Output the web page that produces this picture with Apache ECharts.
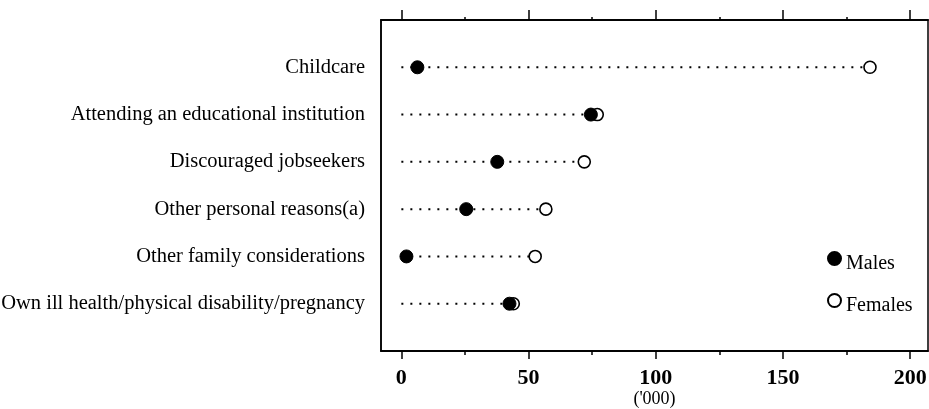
<!DOCTYPE html>
<html>
<head>
<meta charset="utf-8">
<script src="https://cdn.jsdelivr.net/npm/echarts@6/dist/echarts.min.js"></script>
<style>
  html, body { margin: 0; padding: 0; background: #fff; }
  #chart { width: 929px; height: 409px; }
</style>
</head>
<body>
<div id="chart"></div>
<script>
// categories listed top to bottom
var categories = [
	"Childcare",
	"Attending an educational institution",
	"Discouraged jobseekers",
	"Other personal reasons(a)",
	"Other family considerations",
	"Own ill health/physical disability/pregnancy"
];
var males = [6.3, 74.5, 37.7, 25.5, 2, 42.5];
var females = [184.2, 77, 71.9, 56.8, 52.6, 44];
var xTicks = [0, 50, 100, 150, 200];
var xMinorTicks = [25, 75, 125, 175];

var font = "'Liberation Serif', 'Times New Roman', serif";
var rows = categories.length;

// row i sits at y = rows - i (top row highest)
function rowY(i) { return rows - i; }

var maleData = males.map(function (v, i) { return [v, rowY(i)]; });
var femaleData = females.map(function (v, i) { return [v, rowY(i)]; });
var guideData = categories.map(function (c, i) {
	return [0, Math.max(males[i], females[i]), rowY(i)];
});

function xAxisDef(pos, ticks, len, showLabel) {
	return {
		type: "value",
		position: pos,
		min: -8,
		max: 207,
		axisLine: { show: true, onZero: false, lineStyle: { color: "#000", width: 1.5 } },
		splitLine: { show: false },
		axisTick: {
			show: true,
			inside: false,
			length: len,
			customValues: ticks,
			lineStyle: { color: "#000", width: 1.5 }
		},
		axisLabel: {
			show: showLabel,
			customValues: ticks,
			margin: 16,
			color: "#000",
			fontFamily: font,
			fontSize: 22,
			fontWeight: "bold"
		}
	};
}

var bottomAxis = xAxisDef("bottom", xTicks, 8, true);
bottomAxis.name = "('000)";
bottomAxis.nameLocation = "middle";
bottomAxis.nameGap = 39;
bottomAxis.nameMoveOverlap = false;
bottomAxis.nameTextStyle = { color: "#000", fontFamily: font, fontSize: 18 };

var option = {
	backgroundColor: "#fff",
	animation: false,
	grid: {
		left: 381,
		right: 1,
		top: 20,
		bottom: 58,
		outerBoundsMode: "none",
		containLabel: false,
		show: true,
		borderColor: "#000",
		borderWidth: 1.5
	},
	legend: {
		orient: "vertical",
		left: 822,
		top: 246,
		itemWidth: 13,
		itemHeight: 13,
		itemGap: 19,
		icon: "circle",
		data: ["Males", "Females"],
		formatter: "{t|{name}}",
		textStyle: {
			color: "#000",
			fontFamily: font,
			fontSize: 20,
			rich: {
				t: {
					fontFamily: font,
					fontSize: 20,
					color: "#000",
					padding: [11, 0, 0, 0]
				}
			}
		}
	},
	xAxis: [
		bottomAxis,
		xAxisDef("bottom", xMinorTicks, 4, false),
		xAxisDef("top", xTicks, 10, false),
		xAxisDef("top", xMinorTicks, 3, false)
	],
	yAxis: {
		type: "value",
		min: 0,
		max: rows + 1,
		interval: 1,
		axisLine: { show: true, onZero: false, lineStyle: { color: "#000", width: 1.5 } },
		axisTick: { show: false },
		splitLine: { show: false },
		axisLabel: {
			margin: 16,
			color: "#000",
			fontFamily: font,
			fontSize: 20.5,
			formatter: function (v) {
				return (v >= 1 && v <= rows) ? categories[rows - v] : "";
			}
		}
	},
	series: [
		{
			type: "custom",
			name: "guide",
			xAxisIndex: 0,
			encode: { x: [0, 1], y: 2 },
			data: guideData,
			z: 1,
			renderItem: function (params, api) {
				var p1 = api.coord([api.value(0), api.value(2)]);
				var p2 = api.coord([api.value(1), api.value(2)]);
				return {
					type: "line",
					shape: { x1: p1[0], y1: p1[1], x2: p2[0], y2: p2[1] },
					style: { stroke: "#000", lineWidth: 2, lineDash: [2, 7] }
				};
			}
		},
		{
			type: "scatter",
			name: "Females",
			xAxisIndex: 0,
			data: femaleData,
			symbol: "circle",
			symbolSize: 12,
			z: 3,
			itemStyle: { color: "#fff", borderColor: "#000", borderWidth: 1.6, opacity: 1 }
		},
		{
			type: "scatter",
			name: "Males",
			xAxisIndex: 0,
			data: maleData,
			symbol: "circle",
			symbolSize: 13,
			z: 4,
			itemStyle: { color: "#000", borderColor: "#000", borderWidth: 1, opacity: 1 }
		}
	]
};

var myChart = echarts.init(document.getElementById("chart"), null, { renderer: "canvas" });
myChart.setOption(option);
</script>
</body>
</html>
